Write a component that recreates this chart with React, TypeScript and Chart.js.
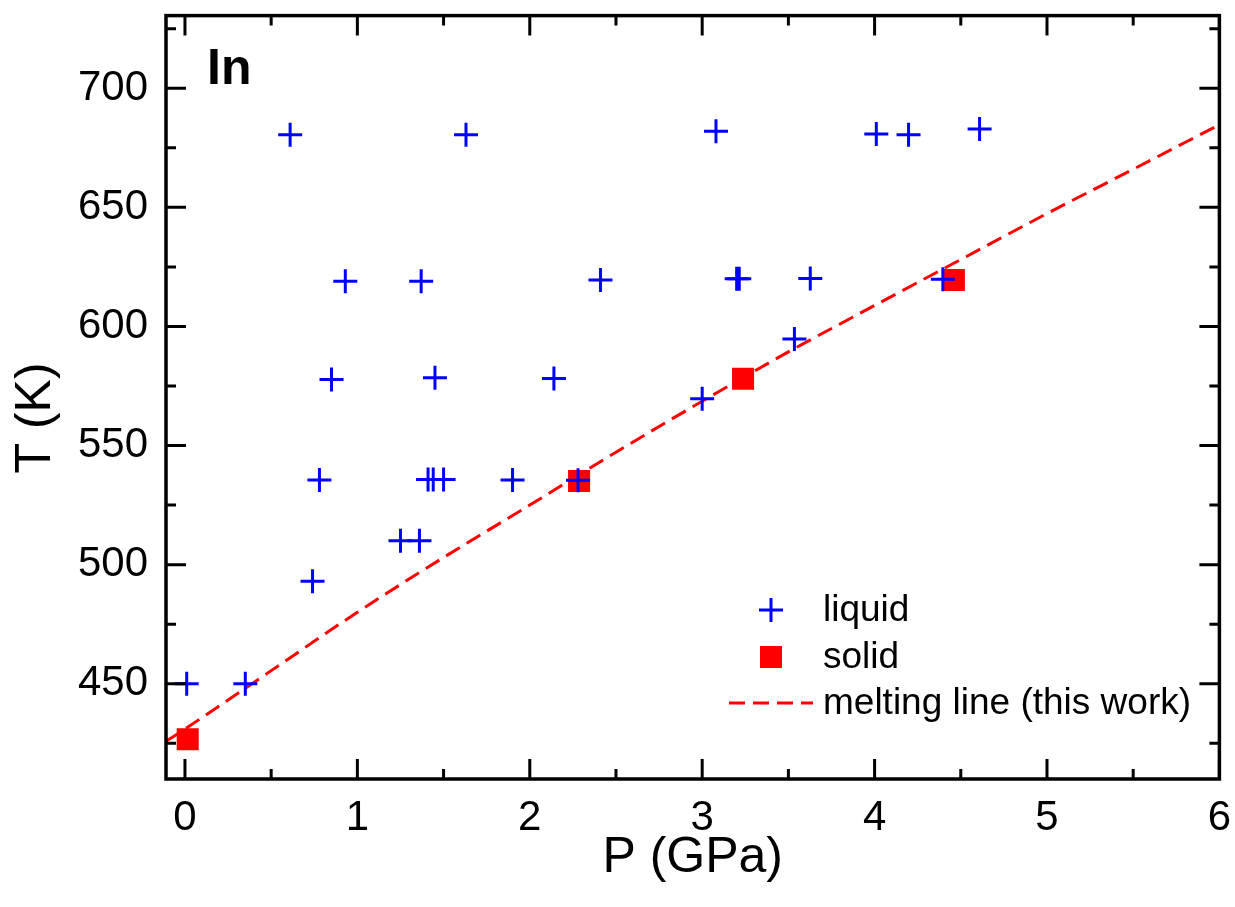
import React, { useEffect, useRef } from "react";
import { Chart, registerables } from "chart.js";

Chart.register(...registerables);

// ---- data ----
const liquidP = [0.01, 0.35, 0.74, 0.78, 0.85, 0.93, 0.61, 1.25, 1.36, 1.37, 1.41, 1.44, 1.5, 1.45, 1.63, 1.9, 2.14, 2.28, 2.41, 3.0, 3.08, 3.2, 3.215, 3.535, 3.627, 4.01, 4.197, 4.396, 4.609];
const liquidT = [450, 450, 493, 535.5, 577.7, 619, 680.5, 510, 510, 619, 535.7, 535.7, 535.7, 578.5, 680.5, 535.5, 578.1, 535.4, 619.5, 569.6, 681.9, 620, 620, 594.7, 620.1, 680.8, 680.5, 619.8, 682.9];

const solidP = [0.016, 2.286, 3.237, 4.46];
const solidT = [426.7, 535.1, 578.0, 619.5];

const meltP = [-0.11, 0, 0.5, 1, 1.5, 2, 2.5, 3, 3.5, 4, 4.5, 5, 5.5, 6];
const meltT = [425.8, 431, 455.5, 480, 503, 525, 547.2, 568.6, 589.3, 608.8, 628.1, 647.4, 666, 684.7];

const xMajor = [0, 1, 2, 3, 4, 5, 6];
const xMinor = [0.5, 1.5, 2.5, 3.5, 4.5, 5.5];
const yMajor = [450, 500, 550, 600, 650, 700];
const yMinor = [425, 475, 525, 575, 625, 675, 725];

const xTitle = "P (GPa)";
const yTitle = "T (K)";
const panelLabel = "In";
const legendLabels = ["liquid", "solid", "melting line (this work)"];

const FONT = "'Liberation Sans', Arial, Helvetica, sans-serif";
const BLUE = "#0000ff";
const RED = "#ff0000";

const decorPlugin = {
  id: "decor",
  afterDatasetsDraw(chart: any) {
    const { ctx, chartArea, scales } = chart;
    const { left, right, top, bottom } = chartArea;
    const xs = scales.x;
    const ys = scales.y;
    ctx.save();
    ctx.strokeStyle = "#000";
    ctx.lineCap = "butt";
    // ticks
    ctx.lineWidth = 3;
    const majorLen = 20;
    const minorLen = 10;
    const drawX = (vals: number[], len: number) => {
      vals.forEach((v) => {
        const px = xs.getPixelForValue(v);
        ctx.beginPath();
        ctx.moveTo(px, bottom);
        ctx.lineTo(px, bottom - len);
        ctx.moveTo(px, top);
        ctx.lineTo(px, top + len);
        ctx.stroke();
      });
    };
    const drawY = (vals: number[], len: number) => {
      vals.forEach((v) => {
        const py = ys.getPixelForValue(v);
        ctx.beginPath();
        ctx.moveTo(left, py);
        ctx.lineTo(left + len, py);
        ctx.moveTo(right, py);
        ctx.lineTo(right - len, py);
        ctx.stroke();
      });
    };
    drawX(xMajor, majorLen);
    drawX(xMinor, minorLen);
    drawY(yMajor, majorLen);
    drawY(yMinor, minorLen);
    // frame
    ctx.lineWidth = 3.5;
    ctx.strokeRect(left, top, right - left, bottom - top);

    // panel label
    ctx.fillStyle = "#000";
    ctx.font = `bold 50px ${FONT}`;
    ctx.textAlign = "left";
    ctx.textBaseline = "alphabetic";
    ctx.fillText(panelLabel, 207, 84);

    // axis titles
    ctx.font = `50px ${FONT}`;
    ctx.textAlign = "center";
    ctx.textBaseline = "middle";
    ctx.fillText(xTitle, (left + right) / 2, 858);
    ctx.save();
    ctx.translate(36, 418);
    ctx.rotate(-Math.PI / 2);
    ctx.fillText(yTitle, 0, 0);
    ctx.restore();

    // legend
    const lx = 771;
    const rows = [610, 657, 703];
    ctx.strokeStyle = BLUE;
    ctx.lineWidth = 3;
    ctx.beginPath();
    ctx.moveTo(lx - 12, rows[0]);
    ctx.lineTo(lx + 12, rows[0]);
    ctx.moveTo(lx, rows[0] - 12);
    ctx.lineTo(lx, rows[0] + 12);
    ctx.stroke();
    ctx.fillStyle = RED;
    ctx.fillRect(lx - 11, rows[1] - 11, 22, 22);
    ctx.strokeStyle = RED;
    ctx.lineWidth = 3;
    ctx.setLineDash([16, 8]);
    ctx.beginPath();
    ctx.moveTo(729, rows[2]);
    ctx.lineTo(813, rows[2]);
    ctx.stroke();
    ctx.setLineDash([]);
    ctx.fillStyle = "#000";
    ctx.font = `37px ${FONT}`;
    ctx.textAlign = "left";
    ctx.textBaseline = "middle";
    legendLabels.forEach((t, i) => ctx.fillText(t, 823, rows[i] + 1));
    ctx.restore();
  },
};

export default function App() {
  const ref = useRef<HTMLCanvasElement | null>(null);
  useEffect(() => {
    document.body.style.margin = "0";
    const canvas = ref.current;
    if (!canvas) return;
    const chart = new Chart(canvas, {
      type: "scatter",
      data: {
        datasets: [
          {
            label: legendLabels[0],
            data: liquidP.map((p, i) => ({ x: p, y: liquidT[i] })),
            pointStyle: "cross",
            pointRadius: 12,
            pointBorderColor: BLUE,
            pointBackgroundColor: BLUE,
            pointBorderWidth: 3,
            showLine: false,
          },
          {
            label: legendLabels[1],
            data: solidP.map((p, i) => ({ x: p, y: solidT[i] })),
            pointStyle: "rect",
            pointRadius: 15.6,
            pointBorderWidth: 0,
            pointBorderColor: RED,
            pointBackgroundColor: RED,
            showLine: false,
          },
          {
            label: legendLabels[2],
            data: meltP.map((p, i) => ({ x: p, y: meltT[i] })),
            showLine: true,
            pointRadius: 0,
            borderColor: RED,
            borderWidth: 3,
            borderDash: [16, 8],
            cubicInterpolationMode: "monotone",
            fill: false,
          },
        ],
      } as any,
      options: {
        responsive: false,
        animation: false,
        devicePixelRatio: 1,
        layout: { padding: { left: 0, right: 15, top: 12, bottom: 0 } },
        plugins: { legend: { display: false }, tooltip: { enabled: false } },
        scales: {
          x: {
            type: "linear",
            min: -0.11,
            max: 6,
            afterBuildTicks: (s: any) => {
              s.ticks = xMajor.map((v) => ({ value: v }));
            },
            afterFit: (s: any) => {
              s.height = 128;
              s.paddingLeft = 0;
              s.paddingRight = 0;
              s.paddingTop = 0;
              s.paddingBottom = 0;
            },
            grid: { display: false, drawTicks: false },
            border: { display: false },
            ticks: {
              color: "#000",
              font: { family: FONT, size: 42 },
              padding: 14,
              maxRotation: 0,
              autoSkip: false,
              callback: (v: any) => String(v),
            },
          },
          y: {
            type: "linear",
            min: 410,
            max: 730.5,
            afterBuildTicks: (s: any) => {
              s.ticks = yMajor.map((v) => ({ value: v }));
            },
            afterFit: (s: any) => {
              s.width = 166;
              s.paddingLeft = 0;
              s.paddingRight = 0;
              s.paddingTop = 0;
              s.paddingBottom = 0;
            },
            grid: { display: false, drawTicks: false },
            border: { display: false },
            ticks: {
              color: "#000",
              font: { family: FONT, size: 42 },
              padding: 18,
              autoSkip: false,
              callback: (v: any) => String(v),
            },
          },
        },
      } as any,
      plugins: [decorPlugin],
    });
    return () => chart.destroy();
  }, []);
  return (
    <div style={{ width: 1235, height: 907 }}>
      <canvas ref={ref} width={1235} height={907} style={{ display: "block" }} />
    </div>
  );
}
